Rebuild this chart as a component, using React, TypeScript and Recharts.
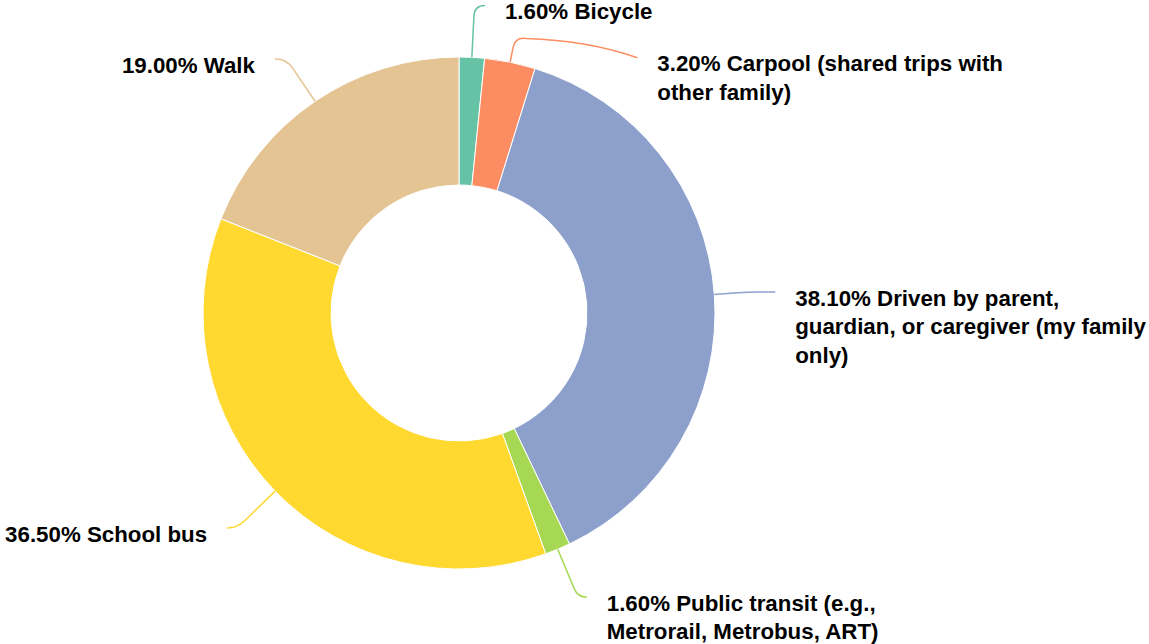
import { PieChart, Pie, Cell } from "recharts";

const categories = [
  "Bicycle",
  "Carpool (shared trips with other family)",
  "Driven by parent, guardian, or caregiver (my family only)",
  "Public transit (e.g., Metrorail, Metrobus, ART)",
  "School bus",
  "Walk",
];
const shares = [1.6, 3.2, 38.1, 1.6, 36.5, 19.0];
const colors = ["#66c2a5", "#fc8d62", "#8da0cb", "#a6d854", "#ffd92f", "#e5c494"];

// how each label text is broken into lines (word counts per line)
const lineWords = [[3], [5, 2], [4, 5, 1], [4, 3], [3], [2]];

const data = categories.map((name, i) => ({ name, value: shares[i] }));

// leader line shape per slice: radial length, horizontal length, end nudge
const leaders = [
  { len1: 52, len2: 10.5, dy: 0 },
  { len1: 26, len2: 122, dy: 21 },
  { len1: 34, len2: 27, dy: 0 },
  { len1: 52, len2: 9, dy: 0 },
  { len1: 53, len2: 10, dy: 0 },
  { len1: 51, len2: 11.5, dy: 0 },
];

const FONT_SIZE = 22.3;
const FONT = `bold ${FONT_SIZE}px "Liberation Sans", Arial, Helvetica, sans-serif`;
const LINE_H = 28.5;
const GAP = 20;
const CORNER = 11;
const RADIAN = Math.PI / 180;

function splitLines(text: string, counts: number[]): string[] {
  const words = text.split(" ");
  const out: string[] = [];
  let k = 0;
  for (const c of counts) {
    out.push(words.slice(k, k + c).join(" "));
    k += c;
  }
  if (k < words.length) out.push(words.slice(k).join(" "));
  return out;
}

function renderLabel(props: any) {
  const { cx, cy, midAngle, outerRadius, index, name, value } = props;
  const cos = Math.cos(-midAngle * RADIAN);
  const sin = Math.sin(-midAngle * RADIAN);
  const l = leaders[index];
  const sx = cx + outerRadius * cos;
  const sy = cy + outerRadius * sin;
  const bx = cx + (outerRadius + l.len1) * cos;
  const by = cy + (outerRadius + l.len1) * sin;
  const right = cos >= 0;
  const ex = bx + (right ? l.len2 : -l.len2);
  const ey = by + l.dy;

  const d1 = Math.hypot(bx - sx, by - sy);
  const d2 = Math.hypot(ex - bx, ey - by);
  const r = Math.min(CORNER, d1 * 0.5, d2);
  const p1x = bx - ((bx - sx) / d1) * r;
  const p1y = by - ((by - sy) / d1) * r;
  const p2x = bx + ((ex - bx) / d2) * r;
  const p2y = by + ((ey - by) / d2) * r;
  // second leg leaves the corner level and bows toward the label
  const qx = p2x + (ex - p2x) * 0.55;
  const qy = p2y + (ey - p2y) * 0.1;
  const path = `M${sx},${sy} L${p1x},${p1y} Q${bx},${by} ${p2x},${p2y} Q${qx},${qy} ${ex},${ey}`;

  const lines = splitLines(`${Number(value).toFixed(2)}% ${name}`, lineWords[index]);
  const tx = right ? ex + GAP : ex - GAP;
  const baseY = ey + 13.5;

  return (
    <g key={`lbl-${index}`}>
      <path d={path} fill="none" stroke={colors[index]} strokeWidth={1.5} />
      <text
        x={tx}
        y={baseY}
        textAnchor={right ? "start" : "end"}
        fill="#000"
        style={{ font: FONT }}
      >
        {lines.map((ln, i) => (
          <tspan key={i} x={tx} y={baseY + i * LINE_H}>
            {ln}
          </tspan>
        ))}
      </text>
    </g>
  );
}

export default function App() {
  return (
    <div style={{ width: 1149, height: 644, background: "#fff" }}>
      <style>{"body{margin:0}"}</style>
      <PieChart width={1149} height={644} margin={{ top: 0, right: 0, bottom: 0, left: 0 }}>
        <Pie
          data={data}
          dataKey="value"
          nameKey="name"
          cx={459}
          cy={313}
          innerRadius={128}
          outerRadius={256}
          startAngle={90}
          endAngle={-270}
          stroke="#fff"
          strokeWidth={1}
          label={renderLabel}
          labelLine={false}
          isAnimationActive={false}
        >
          {data.map((d, i) => (
            <Cell key={d.name} fill={colors[i]} />
          ))}
        </Pie>
      </PieChart>
    </div>
  );
}
